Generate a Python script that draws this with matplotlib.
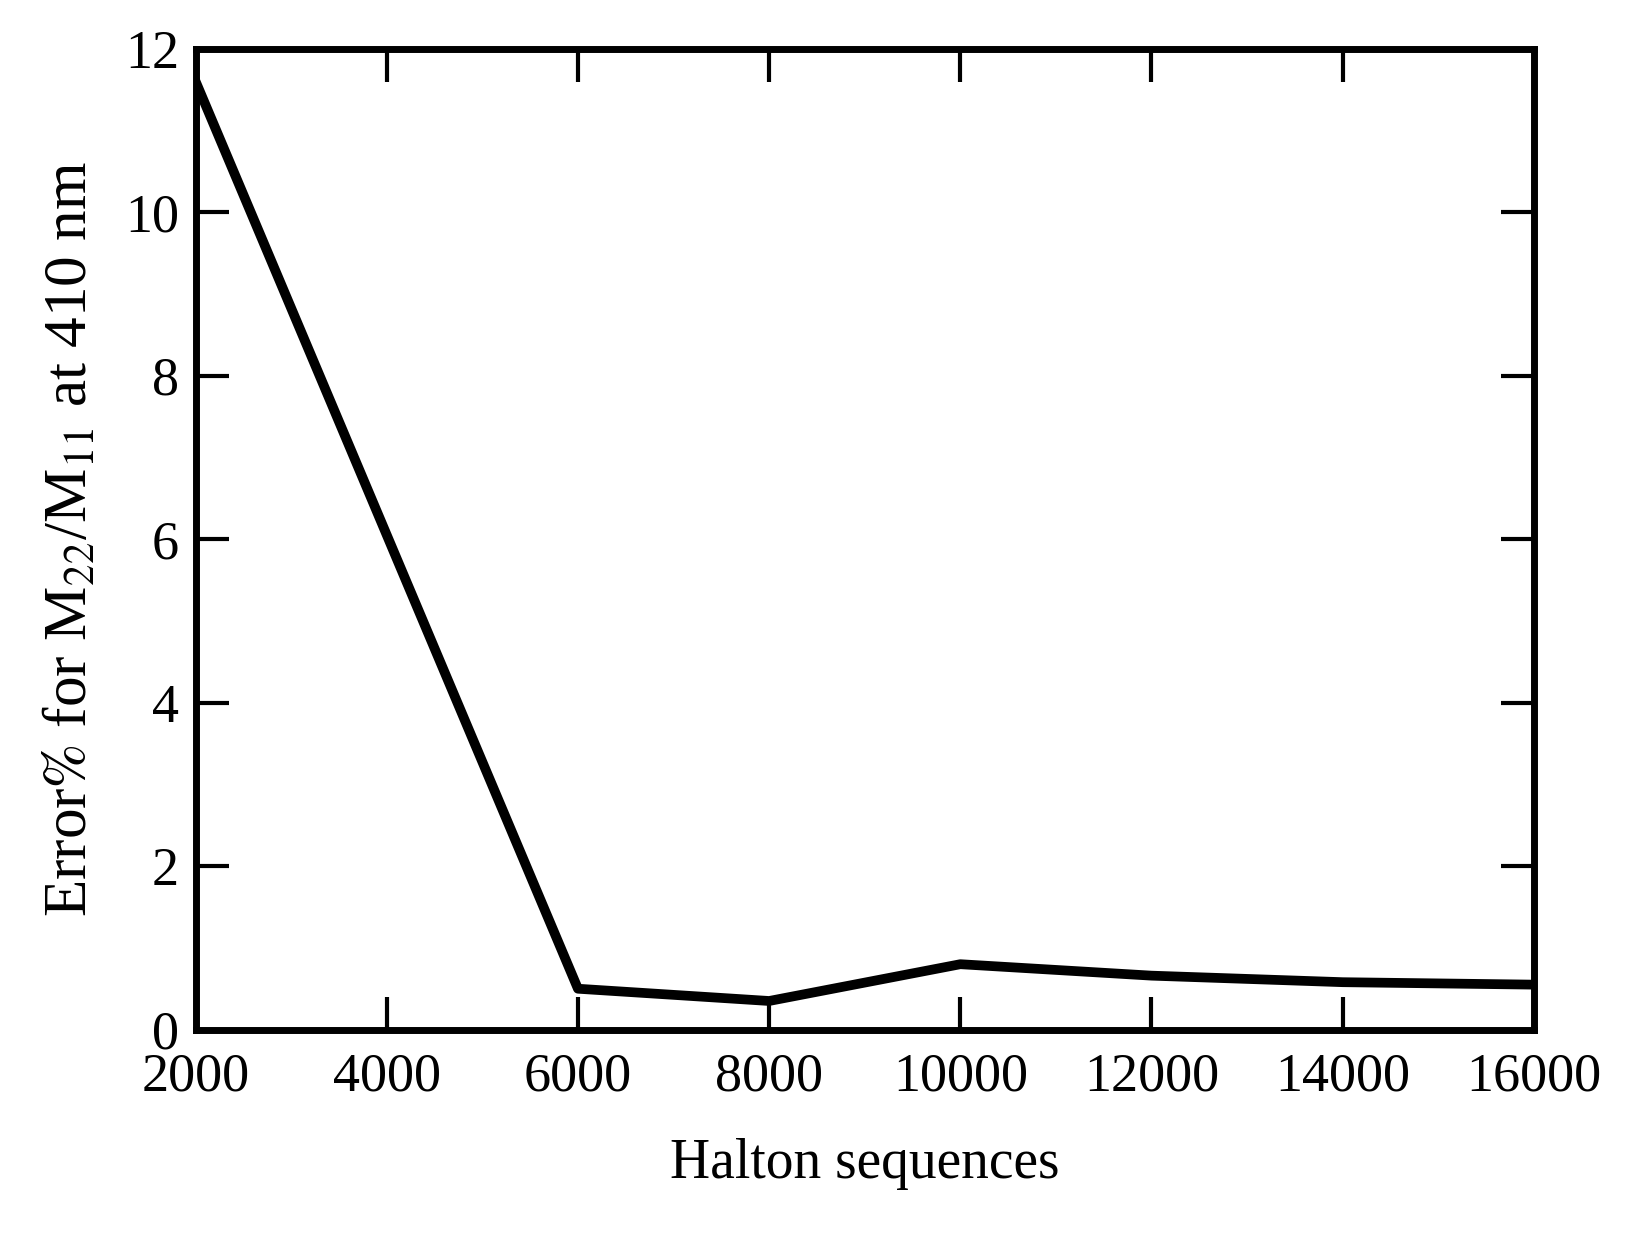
import matplotlib
matplotlib.use("Agg")
import matplotlib.pyplot as plt

x_vals = [2000, 4000, 6000, 8000, 10000, 12000, 14000, 16000]
err_vals = [11.6, 6.05, 0.5, 0.35, 0.8, 0.66, 0.58, 0.55]
x_ticks = [2000, 4000, 6000, 8000, 10000, 12000, 14000, 16000]
y_ticks = [0, 2, 4, 6, 8, 10, 12]

plt.rcParams['font.family'] = ['Liberation Serif', 'DejaVu Serif']
plt.rcParams['mathtext.fontset'] = 'stix'

fig = plt.figure(figsize=(16.3, 12.48), dpi=100)
ax = fig.add_axes([0.12, 0.175, 0.821, 0.786])
ax.plot(x_vals, err_vals, color='black', lw=7)
ax.set_xlim(2000, 16000)
ax.set_ylim(0, 12)
ax.set_xticks(x_ticks)
ax.set_yticks(y_ticks)
ax.tick_params(direction='in', length=24, width=3, labelsize=39, top=True, right=True)
ax.tick_params(axis='x', pad=16)
ax.tick_params(axis='y', pad=12)
for s in ax.spines.values():
    s.set_linewidth(5)
ax.set_xlabel('Halton sequences', fontsize=40, labelpad=26)
ax.set_ylabel(r'Error$\%$ for M$_{22}$/M$_{11}$ at 410 nm', fontsize=44, labelpad=18)
fig.savefig('out.png', dpi=100)
